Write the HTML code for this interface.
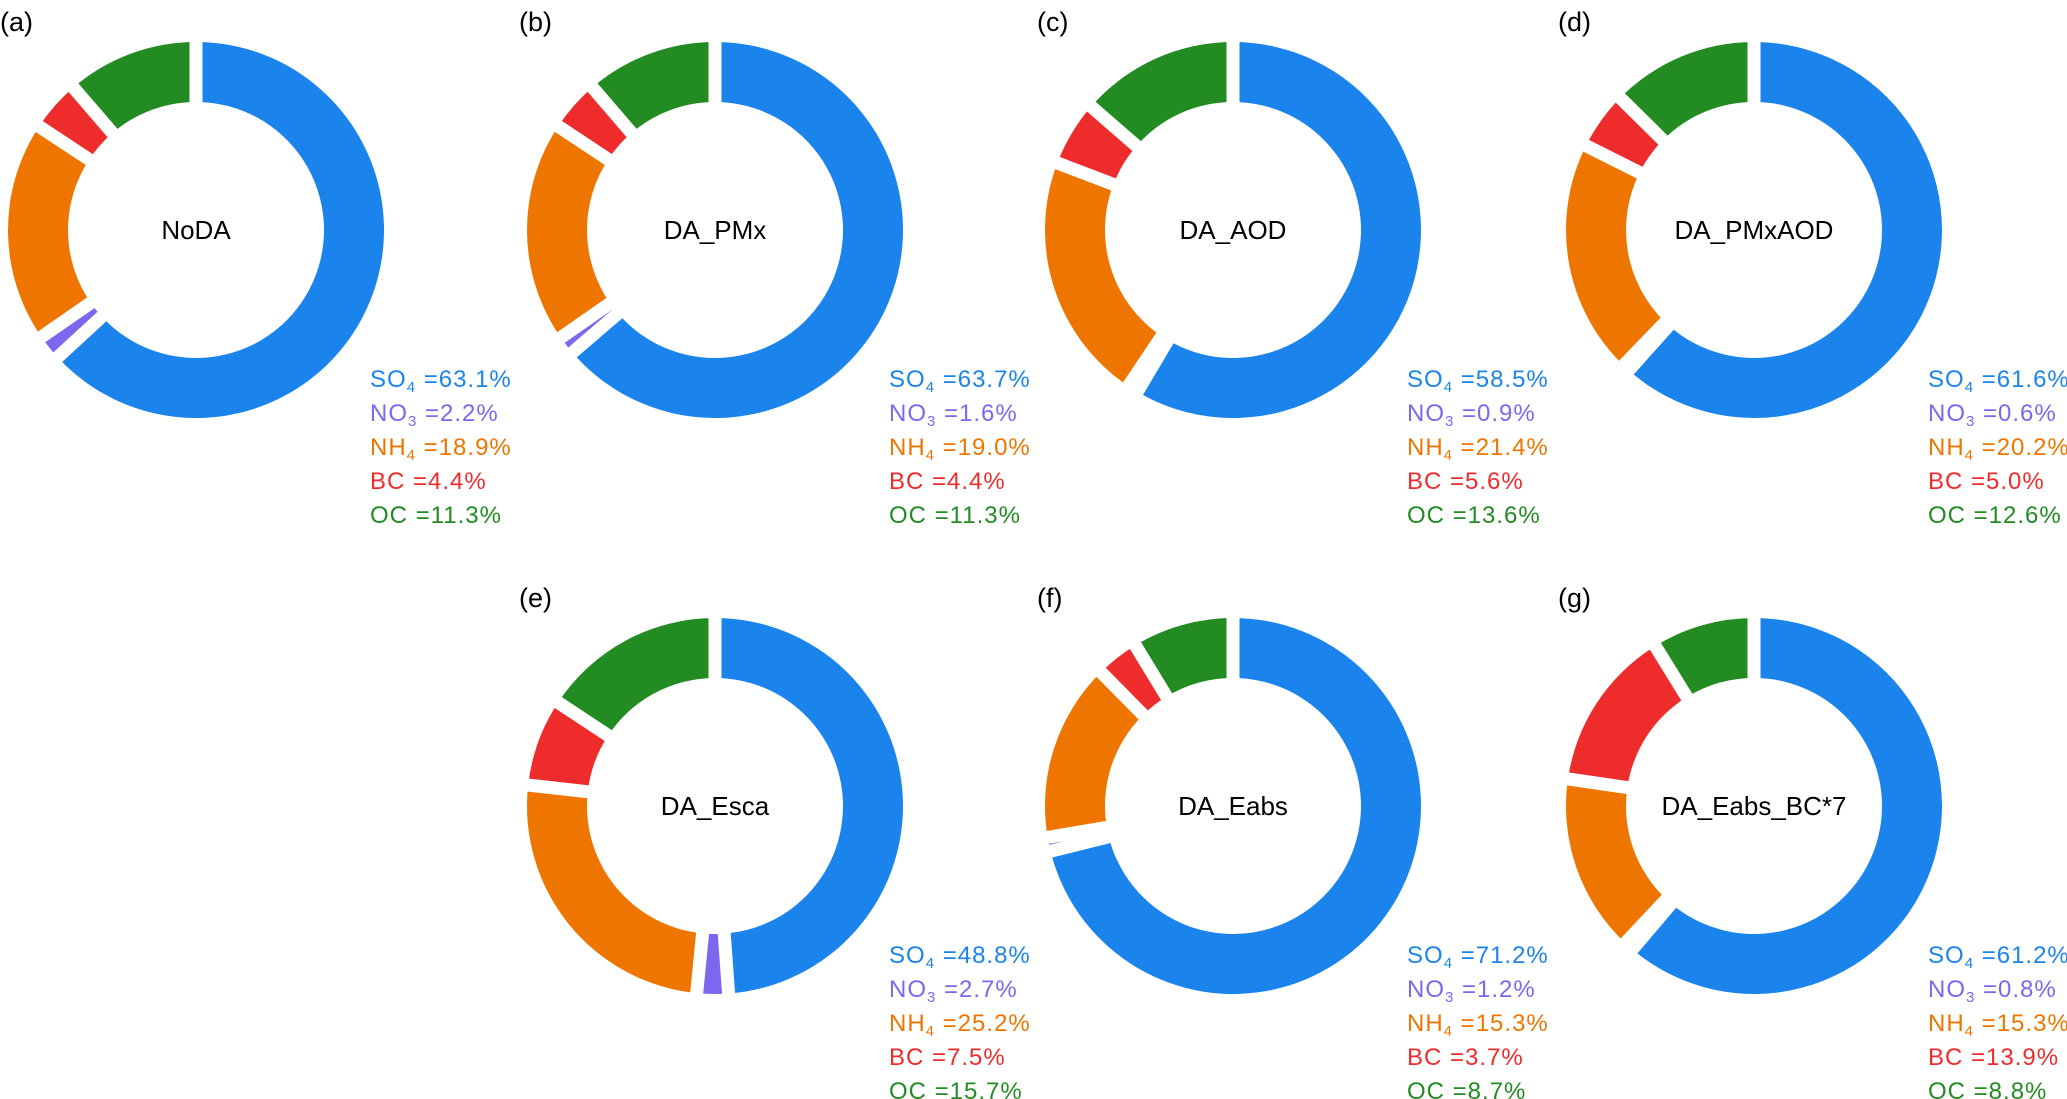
<!DOCTYPE html>
<html><head><meta charset="utf-8"><style>
body{margin:0;background:#fff;}
svg{display:block;font-family:"Liberation Sans",sans-serif;}
</style></head><body>
<svg id="c" width="2067" height="1099" viewBox="0 0 2067 1099"></svg>
<script>
const panelLetters=['(a)','(b)','(c)','(d)','(e)','(f)','(g)'];
const panelNames=['NoDA','DA_PMx','DA_AOD','DA_PMxAOD','DA_Esca','DA_Eabs','DA_Eabs_BC*7'];
const species=['SO','NO','NH','BC','OC'];
const speciesSub=['4','3','4','',''];
const so4=[63.1,63.7,58.5,61.6,48.8,71.2,61.2];
const no3=[2.2,1.6,0.9,0.6,2.7,1.2,0.8];
const nh4=[18.9,19.0,21.4,20.2,25.2,15.3,15.3];
const bc=[4.4,4.4,5.6,5.0,7.5,3.7,13.9];
const oc=[11.3,11.3,13.6,12.6,15.7,8.7,8.8];
const colors=['#1b84ec','#7b68ee','#ee7600','#ee2c2c','#228b22'];
const cx=[196,715,1233,1754,715,1233,1754];
const cy=[230,230,230,230,806,806,806];
const R=188,r=128;
const svg=document.getElementById('c');
const NS='http://www.w3.org/2000/svg';
function pt(x,y,rad,a){return [x+rad*Math.sin(a),y-rad*Math.cos(a)];}
for(let p=0;p<7;p++){
  const vals=[so4[p],no3[p],nh4[p],bc[p],oc[p]];
  const tot=vals.reduce((a,b)=>a+b,0);
  const g=document.createElementNS(NS,'g');
  
  
  svg.appendChild(g);
  let a0=0;const bounds=[0];
  for(let i=0;i<5;i++){
    const a1=a0+vals[i]/tot*2*Math.PI;
    const large=(a1-a0)>Math.PI?1:0;
    const [x1,y1]=pt(cx[p],cy[p],R,a0),[x2,y2]=pt(cx[p],cy[p],R,a1);
    const [x3,y3]=pt(cx[p],cy[p],r,a1),[x4,y4]=pt(cx[p],cy[p],r,a0);
    const path=document.createElementNS(NS,'path');
    path.setAttribute('d',`M${x1},${y1}A${R},${R} 0 ${large} 1 ${x2},${y2}L${x3},${y3}A${r},${r} 0 ${large} 0 ${x4},${y4}Z`);
    path.setAttribute('fill',colors[i]);
    
    
    g.appendChild(path);
    a0=a1;bounds.push(a1);
  }
  for(const b of bounds){
    const [xa,ya]=pt(cx[p],cy[p],r-5,b),[xb,yb]=pt(cx[p],cy[p],R+5,b);
    const l=document.createElementNS(NS,'line');
    l.setAttribute('x1',xa);l.setAttribute('y1',ya);l.setAttribute('x2',xb);l.setAttribute('y2',yb);
    l.setAttribute('stroke','#fff');l.setAttribute('stroke-width','13');
    
    
    g.appendChild(l);
  }
  const t=document.createElementNS(NS,'text');
  t.setAttribute('x',cx[p]);t.setAttribute('y',cy[p]+9);t.setAttribute('text-anchor','middle');
  t.setAttribute('font-size','26');t.textContent=panelNames[p];
  
  
  g.appendChild(t);
  const lt=document.createElementNS(NS,'text');
  lt.setAttribute('x',cx[p]-196);lt.setAttribute('y',cy[p]-199);lt.setAttribute('font-size','27');
  lt.textContent=panelLetters[p];
  
  
  g.appendChild(lt);
  for(let i=0;i<5;i++){
    const tx=document.createElementNS(NS,'text');
    tx.setAttribute('x',cx[p]+174);tx.setAttribute('y',cy[p]+157+i*34);
    tx.setAttribute('font-size','24');tx.setAttribute('letter-spacing','1');tx.setAttribute('fill',colors[i]);
    
    
    let html=species[i];
    if(speciesSub[i]) html+=`<tspan font-size="15" dy="5">${speciesSub[i]}</tspan><tspan dy="-5"> =</tspan>`;
    else html+=' =';
    html+=vals[i].toFixed(1)+'%';
    tx.innerHTML=html;
    g.appendChild(tx);
  }
}
</script>
</body></html>
